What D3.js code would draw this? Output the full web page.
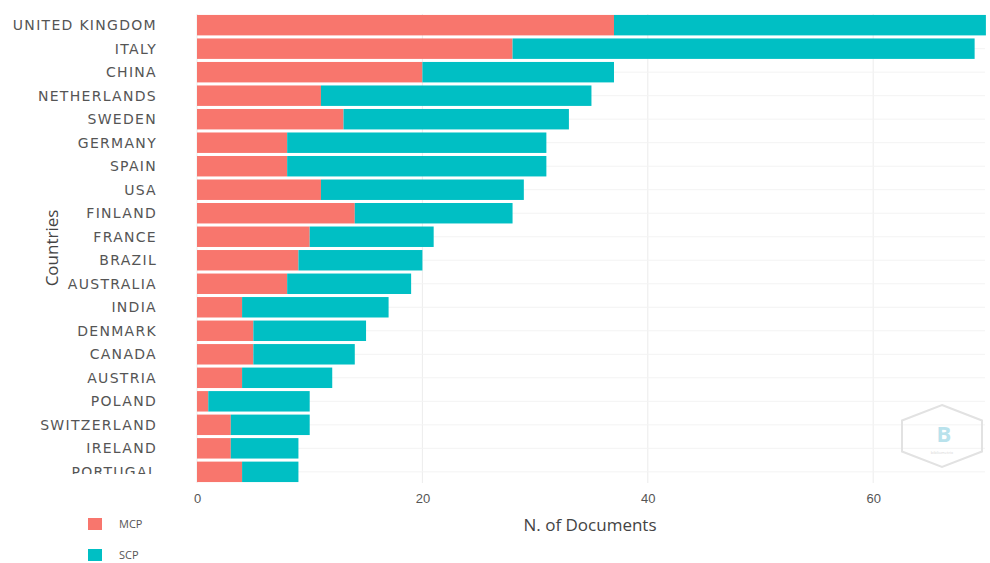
<!DOCTYPE html>
<html><head><meta charset="utf-8">
<script src="https://cdn.jsdelivr.net/npm/d3@7"></script>
<style>body{margin:0;background:#fff;}svg{display:block;font-family:"Open Sans","DejaVu Sans",sans-serif;}
.ylab text{font-family:"DejaVu Sans",sans-serif;font-size:14px;letter-spacing:1.3px;}</style>
</head><body>
<svg id="chart" width="990" height="563"></svg>
<script>
const countries = ["UNITED KINGDOM","ITALY","CHINA","NETHERLANDS","SWEDEN","GERMANY","SPAIN","USA","FINLAND","FRANCE","BRAZIL","AUSTRALIA","INDIA","DENMARK","CANADA","AUSTRIA","POLAND","SWITZERLAND","IRELAND","PORTUGAL"];
const mcp = [37,28,20,11,13,8,8,11,14,10,9,8,4,5,5,4,1,3,3,4];
const scp = [33,41,17,24,20,23,23,18,14,11,11,11,13,10,9,8,9,7,6,5];
const seriesNames = ["MCP","SCP"];
const seriesColors = ["#F8766D","#00BFC4"];
const xTicks = [0,20,40,60];

const svg = d3.select("#chart");
const pL = 197, pR = 985, pT = 14, pB = 483;
const x = d3.scaleLinear().domain([0,70]).range([pL, pL + 70*11.27]);
const y = d3.scaleBand().domain(countries).range([pT, pB]).paddingInner(0.13).paddingOuter(0.04);

const rows = countries.map((c,i)=>({country:c, MCP:mcp[i], SCP:scp[i]}));
const stacked = d3.stack().keys(seriesNames)(rows);

// gridlines
const g = svg.append("g");
g.selectAll(".vg").data(xTicks).join("line")
  .attr("x1",d=>x(d)).attr("x2",d=>x(d)).attr("y1",pT).attr("y2",pB)
  .attr("stroke","#ececec").attr("stroke-width",1);
g.selectAll(".hg").data(countries).join("line")
  .attr("x1",pL).attr("x2",pR).attr("y1",d=>y(d)+y.bandwidth()/2).attr("y2",d=>y(d)+y.bandwidth()/2)
  .attr("stroke","#f3f3f3").attr("stroke-width",1);

// bars
svg.append("g").selectAll("g").data(stacked).join("g")
  .attr("fill",(d,i)=>seriesColors[i])
  .selectAll("rect").data(d=>d).join("rect")
  .attr("x",d=>x(d[0])).attr("width",d=>x(d[1])-x(d[0]))
  .attr("y",d=>y(d.data.country)).attr("height",y.bandwidth());

// y labels (clipped at bottom like the reference)
svg.append("clipPath").attr("id","yclip").append("rect")
  .attr("x",0).attr("y",0).attr("width",190).attr("height",474);
const yAxis = svg.append("g").attr("clip-path","url(#yclip)")
  .append("g").attr("class","ylab").attr("transform",`translate(${pL-40},0)`)
  .call(d3.axisLeft(y).tickSize(0).tickPadding(0));
yAxis.attr("font-family",null).attr("font-size",null);
yAxis.select(".domain").remove();
yAxis.selectAll("text").attr("fill","#555").attr("dy","0.35em");

// x axis
const xAxis = svg.append("g").attr("transform",`translate(0,${pB})`)
  .call(d3.axisBottom(x).tickValues(xTicks).tickSize(0).tickPadding(11));
xAxis.select(".domain").remove();
xAxis.selectAll("text").attr("fill","#555").style("font-size","13px");

// axis titles
svg.append("text").attr("x",590).attr("y",531).attr("text-anchor","middle")
  .attr("fill","#444").style("font-size","17px").text("N. of Documents");
svg.append("text").attr("transform","translate(58,248) rotate(-90)").attr("text-anchor","middle")
  .attr("fill","#444").style("font-size","17px").text("Countries");

// legend
const leg = svg.append("g").selectAll("g").data(seriesNames).join("g")
  .attr("transform",(d,i)=>`translate(88,${518+i*31})`);
leg.append("rect").attr("width",14).attr("height",12).attr("fill",(d,i)=>seriesColors[i]);
leg.append("text").attr("x",31).attr("y",10).attr("fill","#555").style("font-size","11px").text(d=>d);

// watermark
const hx=942, hy=436, hw=40, hh=31;
const hex = [[hx,hy-hh],[hx+hw,hy-hh/2],[hx+hw,hy+hh/2],[hx,hy+hh],[hx-hw,hy+hh/2],[hx-hw,hy-hh/2]];
svg.append("polygon").attr("points",hex.map(p=>p.join(",")).join(" "))
  .attr("fill","none").attr("stroke","#e2e2e2").attr("stroke-width",2);
svg.append("text").attr("x",hx+2).attr("y",hy+6).attr("text-anchor","middle")
  .attr("fill","#b9e2ec").style("font-size","22px").style("font-weight","bold").text("B");
svg.append("text").attr("x",hx).attr("y",hy+18).attr("text-anchor","middle")
  .attr("fill","#d6d6d6").style("font-size","4px").text("bibliometrix");
</script>
</body></html>
